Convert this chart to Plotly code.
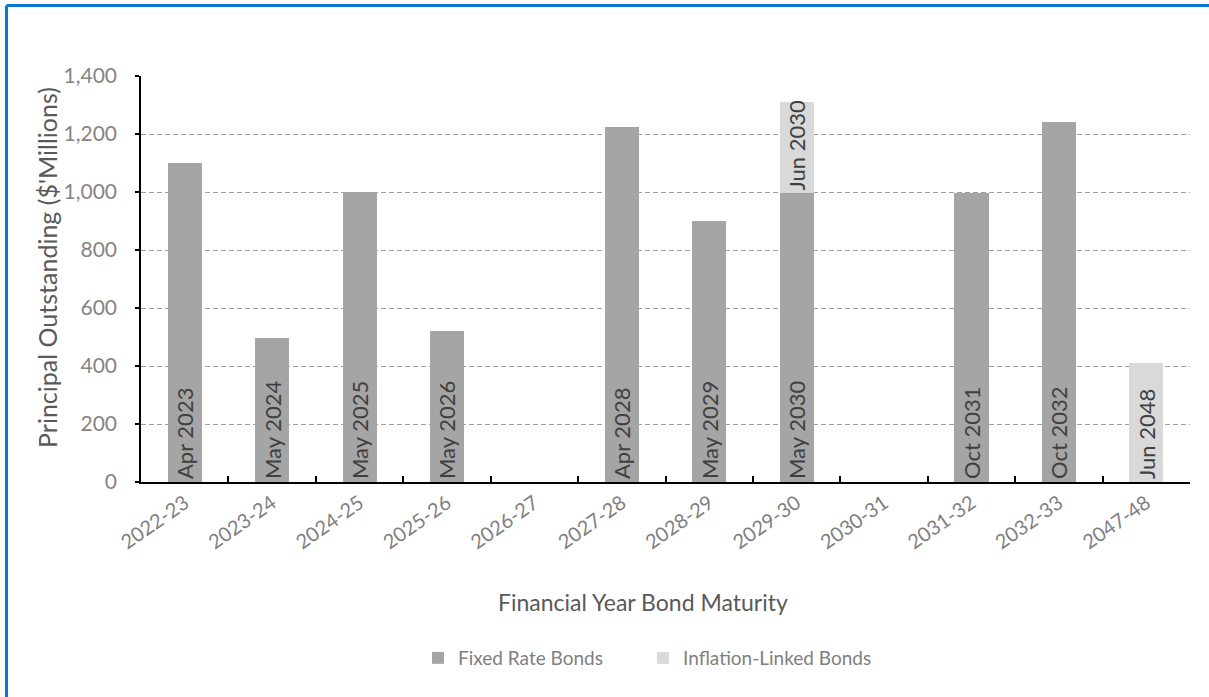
import plotly.graph_objects as go

years = ["2022-23", "2023-24", "2024-25", "2025-26", "2026-27", "2027-28",
         "2028-29", "2029-30", "2030-31", "2031-32", "2032-33", "2047-48"]
fixed_vals = [1100, 495, 1000, 520, None, 1225, 900, 995, None, 995, 1240, None]
fixed_labels = ["Apr 2023", "May 2024", "May 2025", "May 2026", "", "Apr 2028",
                "May 2029", "May 2030", "", "Oct 2031", "Oct 2032", ""]
infl_vals = [None, None, None, None, None, None, None, 315, None, None, None, 410]
infl_labels = ["", "", "", "", "", "", "", "Jun 2030", "", "", "", "Jun 2048"]
y_ticks = [0, 200, 400, 600, 800, 1000, 1200, 1400]

FONT = "Lato"
W, H = 1209, 697
L, R, T, B = 141, 19, 76, 215
pw, ph = W - L - R, H - T - B

def px_x(x):
    return (x - L) / pw

def px_y(y):
    return (H - B - y) / ph

fig = go.Figure()
fig.add_trace(go.Bar(
    x=years, y=fixed_vals, name="Fixed Rate Bonds", legend="legend",
    marker=dict(color="#a5a5a5", line=dict(width=0)),
    text=fixed_labels, textposition="inside", insidetextanchor="start",
    textangle=-90, constraintext="none",
    textfont=dict(family=FONT, size=22, color="#404040"),
    hoverinfo="x+y",
))
fig.add_trace(go.Bar(
    x=years, y=infl_vals, name="Inflation-Linked Bonds", legend="legend2",
    marker=dict(color="#d9d9d9", line=dict(width=0)),
    text=infl_labels, textposition="inside", insidetextanchor="start",
    textangle=-90, constraintext="none",
    textfont=dict(family=FONT, size=22, color="#404040"),
    hoverinfo="x+y",
))

legend_font = dict(family=FONT, size=19, color="#7f7f7f")
fig.update_layout(
    width=W, height=H,
    margin=dict(l=L, r=R, t=T, b=B, pad=0),
    paper_bgcolor="white", plot_bgcolor="white",
    barmode="stack", bargap=0.61,
    font=dict(family=FONT, color="#7f7f7f"),
    showlegend=True,
    legend=dict(orientation="h", x=px_x(418), xanchor="left",
                y=px_y(658), yanchor="middle", font=legend_font,
                itemwidth=30, bgcolor="rgba(0,0,0,0)"),
    legend2=dict(orientation="h", x=px_x(643), xanchor="left",
                 y=px_y(658), yanchor="middle", font=legend_font,
                 itemwidth=30, bgcolor="rgba(0,0,0,0)"),
    xaxis=dict(
        type="category", showline=True, linecolor="#000000", linewidth=1.5,
        ticks="inside", tickson="boundaries", ticklen=6, tickcolor="#000000",
        tickwidth=1.5, tickangle=-35, showgrid=False, automargin=False,
        tickfont=dict(family=FONT, size=20, color="#7f7f7f"),
    ),
    yaxis=dict(
        range=[0, 1400], tickvals=y_ticks, tickformat=",d",
        showline=True, linecolor="#000000", linewidth=1.5,
        ticks="outside", ticklen=4, tickcolor="#000000", tickwidth=1.5,
        ticklabelstandoff=14,
        showgrid=True, gridcolor="#a0a0a0", gridwidth=1, griddash="5px,3px",
        zeroline=False, automargin=False,
        tickfont=dict(family=FONT, size=21, color="#858585"),
    ),
    annotations=[
        dict(text="Financial Year Bond Maturity", xref="paper", yref="paper",
             x=px_x(643), y=px_y(602), xanchor="center", yanchor="middle",
             showarrow=False, font=dict(family=FONT, size=23, color="#595959")),
        dict(text="Principal Outstanding ($'Millions)", xref="paper", yref="paper",
             x=px_x(47), y=px_y(268), xanchor="center", yanchor="middle",
             textangle=-90, showarrow=False,
             font=dict(family=FONT, size=25, color="#595959")),
    ],
    shapes=[
        dict(type="line", xref="paper", yref="paper",
             x0=px_x(6.5), x1=px_x(1215), y0=px_y(5.5), y1=px_y(5.5),
             line=dict(color="#0a78d0", width=3)),
        dict(type="line", xref="paper", yref="paper",
             x0=px_x(6.5), x1=px_x(6.5), y0=px_y(5.5), y1=px_y(705),
             line=dict(color="#0a78d0", width=3)),
    ],
)

fig.write_html("out.html")
